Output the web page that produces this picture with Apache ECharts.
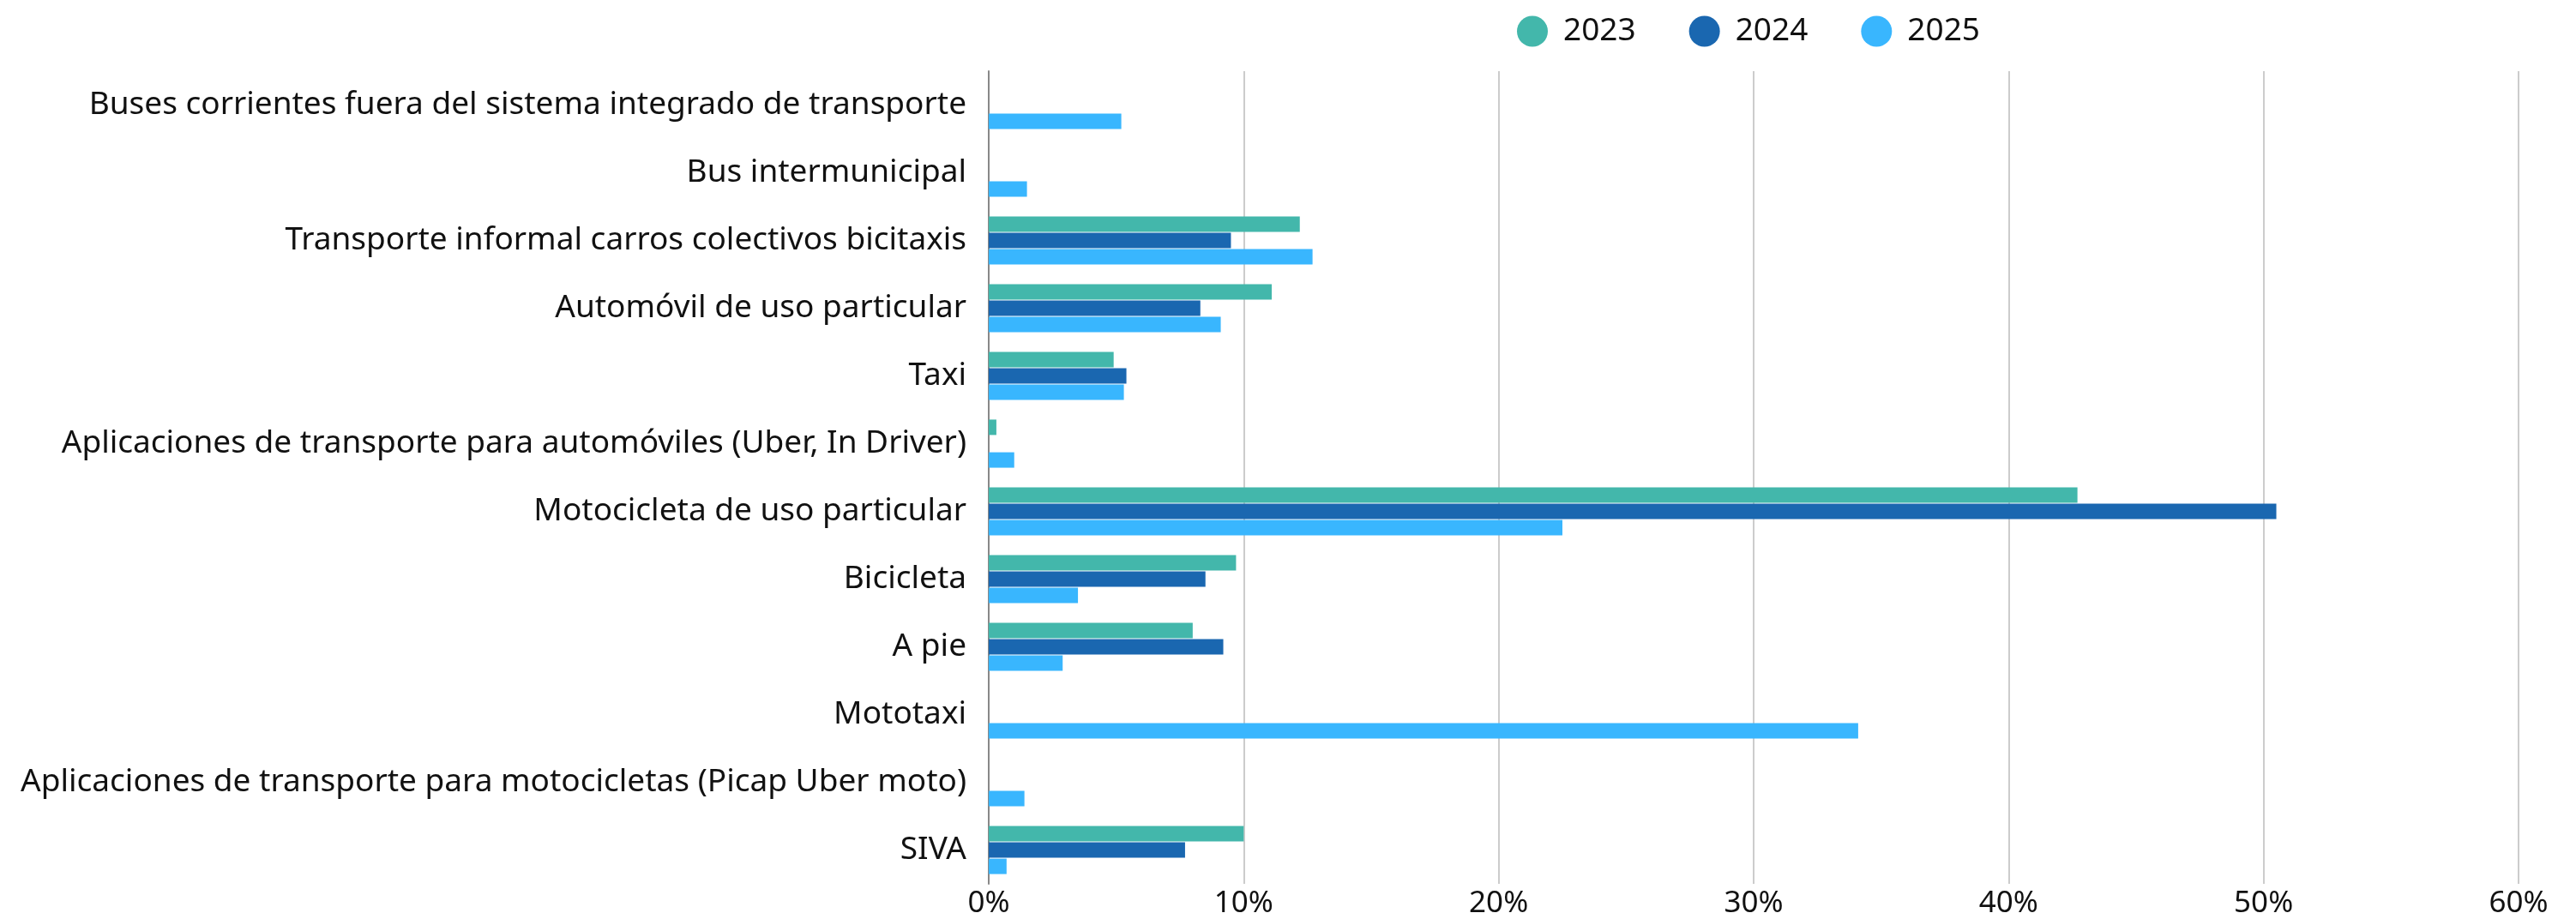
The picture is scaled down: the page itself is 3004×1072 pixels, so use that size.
<!DOCTYPE html>
<html>
<head>
<meta charset="utf-8">
<script src="https://cdn.jsdelivr.net/npm/echarts@6/dist/echarts.min.js"></script>
<style>
  html, body { margin: 0; padding: 0; background: #fff; }
  #chart { width: 3004px; height: 1072px; }
</style>
</head>
<body>
<div id="chart"></div>
<script>
// categorias (de arriba hacia abajo)
const categories = [
  'Buses corrientes fuera del sistema integrado de transporte',
  'Bus intermunicipal',
  'Transporte informal carros colectivos bicitaxis',
  'Automóvil de uso particular',
  'Taxi',
  'Aplicaciones de transporte para automóviles (Uber, In Driver)',
  'Motocicleta de uso particular',
  'Bicicleta',
  'A pie',
  'Mototaxi',
  'Aplicaciones de transporte para motocicletas (Picap Uber moto)',
  'SIVA'
];

// porcentajes por año
const values2023 = [null, null, 12.2, 11.1, 4.9, 0.3, 42.7, 9.7, 8.0, null, null, 10.0];
const values2024 = [null, null, 9.5, 8.3, 5.4, null, 50.5, 8.5, 9.2, null, null, 7.7];
const values2025 = [5.2, 1.5, 12.7, 9.1, 5.3, 1.0, 22.5, 3.5, 2.9, 34.1, 1.4, 0.7];

const seriesNames = ['2023', '2024', '2025'];
const colors = ['#43b7ab', '#1a67b0', '#39b6fe'];

let myChart = echarts.init(document.getElementById('chart'));

let option = {
  animation: false,
  textStyle: { fontFamily: 'Noto Sans' },
  legend: {
    data: seriesNames,
    top: 13,
    left: 1764,
    icon: 'circle',
    itemWidth: 36,
    itemHeight: 36,
    itemGap: 62,
    textStyle: { fontSize: 37, color: '#111', padding: [0, 0, 0, 13] }
  },
  grid: {
    left: 1153,
    right: 67,
    top: 83,
    height: 961,
    containLabel: false
  },
  xAxis: {
    type: 'value',
    min: 0,
    max: 60,
    interval: 10,
    axisLabel: {
      formatter: '{value}%',
      fontSize: 35,
      color: '#111',
      margin: 6
    },
    axisLine: { show: false },
    axisTick: { show: false },
    splitLine: { lineStyle: { color: '#cccccc', width: 2 } }
  },
  yAxis: {
    type: 'category',
    data: categories,
    inverse: true,
    axisLabel: {
      fontSize: 37,
      color: '#111',
      margin: 26
    },
    axisTick: { show: false },
    axisLine: { lineStyle: { color: '#888888', width: 2 } }
  },
  series: seriesNames.map((name, i) => ({
    name: name,
    type: 'bar',
    data: [values2023, values2024, values2025][i],
    barWidth: 18,
    barGap: '6%',
    itemStyle: { color: colors[i] }
  }))
};

myChart.setOption(option);
</script>
</body>
</html>
